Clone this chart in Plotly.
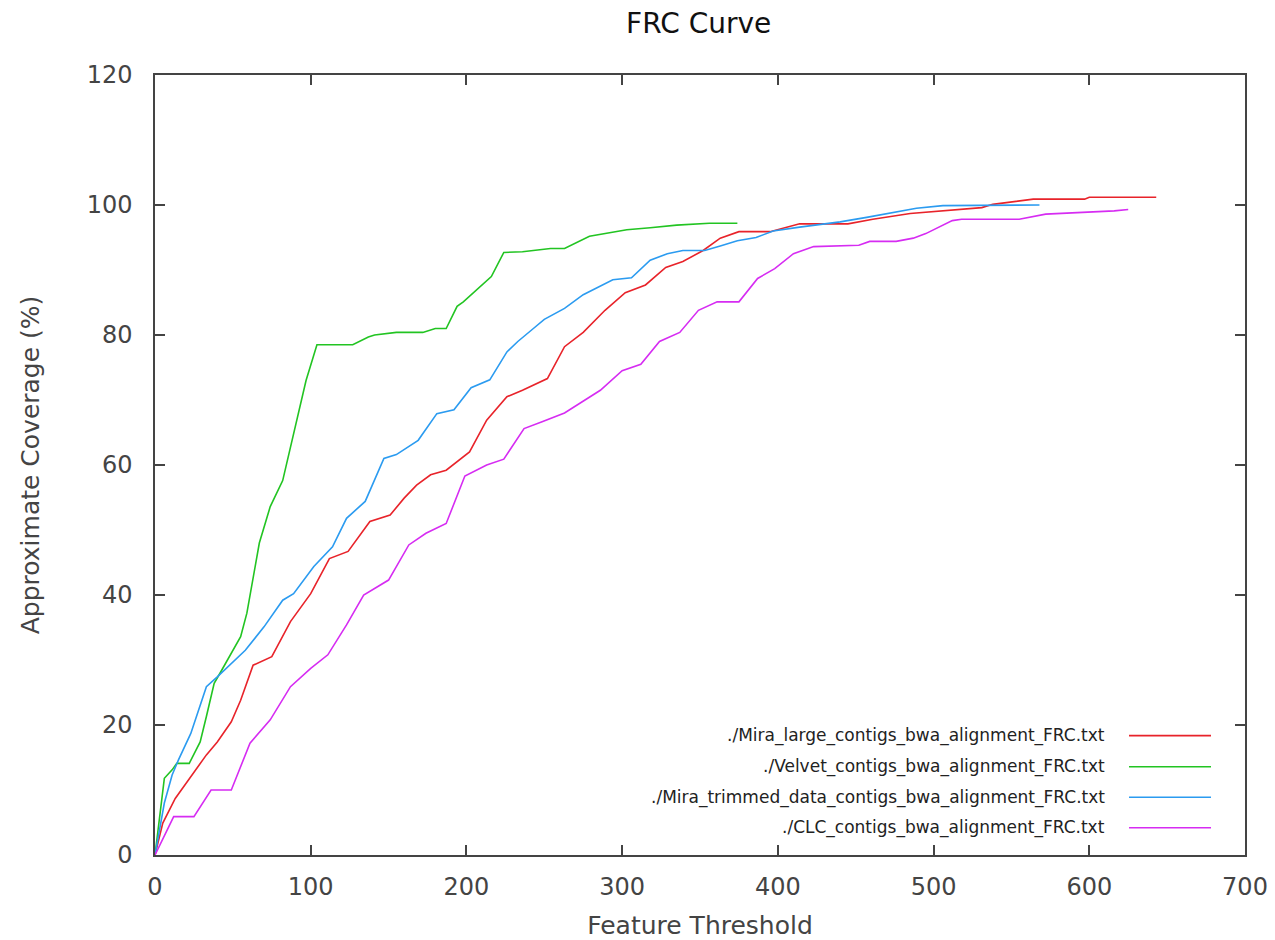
import plotly.graph_objects as go

# ---- data ----
mira_large_x = [0, 5, 13, 22, 33, 40, 49, 55, 63, 75, 87, 100, 112, 124, 138, 151, 160, 168, 177, 187, 196, 202,
                213, 226, 236, 252, 263, 275, 289, 302, 315, 328, 339, 352, 363, 375, 395, 414, 445, 461, 485, 517,
                531, 538, 564, 597, 600, 643]
mira_large_y = [0, 4.9, 8.7, 11.8, 15.4, 17.4, 20.5, 23.8, 29.2, 30.5, 35.9, 40.2, 45.6, 46.7, 51.3, 52.3, 54.9,
                56.9, 58.5, 59.2, 60.8, 62.0, 66.9, 70.5, 71.5, 73.3, 78.2, 80.4, 83.8, 86.5, 87.7, 90.4, 91.3, 93.0,
                94.9, 95.9, 95.9, 97.1, 97.1, 97.8, 98.7, 99.3, 99.6, 100.1, 100.9, 100.9, 101.2, 101.2]

velvet_x = [0, 6, 11, 14, 22, 29, 33, 38, 43, 55, 59, 67, 74, 82, 97, 104, 127, 137, 141, 155, 172, 180, 187,
            194, 198, 212, 216, 224, 236, 254, 263, 279, 288, 303, 318, 335, 356, 374]
velvet_y = [0, 11.8, 13.1, 14.1, 14.1, 17.4, 21.3, 26.4, 28.5, 33.6, 37.2, 48.0, 53.6, 57.6, 73.0, 78.5, 78.5,
            79.7, 80.0, 80.4, 80.4, 81.0, 81.0, 84.4, 85.1, 88.2, 89.0, 92.7, 92.8, 93.3, 93.3, 95.2, 95.6, 96.2,
            96.5, 96.9, 97.2, 97.2]

mira_trim_x = [0, 6, 11, 15, 23, 33, 40, 48, 58, 70, 82, 89, 102, 114, 123, 135, 147, 155, 169, 181, 192, 203,
               215, 226, 233, 243, 250, 263, 275, 294, 306, 318, 329, 339, 353, 363, 374, 386, 397, 414, 440, 457,
               474, 489, 506, 538, 568]
mira_trim_y = [0, 8.0, 12.3, 14.6, 18.7, 25.9, 27.4, 29.2, 31.5, 35.1, 39.2, 40.2, 44.4, 47.4, 51.8, 54.4, 61.0,
               61.6, 63.8, 67.9, 68.5, 71.9, 73.1, 77.4, 79.0, 81.0, 82.4, 84.1, 86.2, 88.5, 88.8, 91.5, 92.5, 93.0,
               93.0, 93.7, 94.5, 95.0, 96.0, 96.6, 97.4, 98.1, 98.8, 99.5, 99.9, 100.0, 100.0]

clc_x = [0, 12, 25, 36, 49, 61, 74, 87, 100, 111, 123, 134, 150, 163, 174, 187, 199, 213, 224, 237, 249, 263,
         286, 300, 312, 324, 337, 349, 361, 375, 387, 398, 410, 423, 452, 459, 476, 487, 495, 512, 518, 555, 572,
         592, 616, 625]
clc_y = [0, 5.9, 5.9, 10.0, 10.0, 17.2, 20.8, 25.9, 28.7, 30.8, 35.4, 40.0, 42.3, 47.7, 49.5, 51.0, 58.3, 60.0,
         60.9, 65.6, 66.7, 68.0, 71.5, 74.5, 75.5, 79.0, 80.4, 83.8, 85.1, 85.1, 88.7, 90.2, 92.5, 93.6, 93.8,
         94.4, 94.4, 94.9, 95.6, 97.6, 97.8, 97.8, 98.6, 98.8, 99.1, 99.3]

series_names = ["./Mira_large_contigs_bwa_alignment_FRC.txt",
                "./Velvet_contigs_bwa_alignment_FRC.txt",
                "./Mira_trimmed_data_contigs_bwa_alignment_FRC.txt",
                "./CLC_contigs_bwa_alignment_FRC.txt"]
series_colors = ["#e8232a", "#22c422", "#2b9bf0", "#d62cf2"]

x_ticks = [0, 100, 200, 300, 400, 500, 600, 700]
y_ticks = [0, 20, 40, 60, 80, 100, 120]

FONT = "DejaVu Sans"
AXC = "#444444"

fig = go.Figure()
series = [(mira_large_x, mira_large_y), (velvet_x, velvet_y), (mira_trim_x, mira_trim_y), (clc_x, clc_y)]
for (xs, ys), name, col in zip(series, series_names, series_colors):
    fig.add_trace(go.Scatter(x=xs, y=ys, mode="lines", name=name,
                             line=dict(color=col, width=1.6), showlegend=False))

# legend drawn gnuplot-style (text right-aligned, sample line to the right)
legend_rows_y = [0.153, 0.1132, 0.074, 0.035]
for name, col, ry in zip(series_names, series_colors, legend_rows_y):
    fig.add_annotation(x=0.873, y=ry, xref="paper", yref="paper", text=name, showarrow=False,
                       xanchor="right", yanchor="middle", font=dict(family=FONT, size=17, color="#222222"))
    fig.add_shape(type="line", xref="paper", yref="paper", x0=0.8936, x1=0.9688, y0=ry, y1=ry,
                  line=dict(color=col, width=1.6))

axis_common = dict(showline=True, linecolor=AXC, linewidth=1.5, mirror="allticks", ticks="inside",
                   ticklen=10, tickwidth=1.5, tickcolor=AXC, showgrid=False, zeroline=False,
                   automargin=False, tickfont=dict(family=FONT, size=24, color="#444444"))

fig.update_layout(
    width=1275, height=940,
    margin=dict(l=155, r=30, t=75, b=85),
    paper_bgcolor="white", plot_bgcolor="white",
    title=dict(text="FRC Curve", x=0.548, xanchor="center", y=0.9755, yanchor="middle",
               font=dict(family=FONT, size=28, color="#111111")),
    xaxis=dict(range=[0, 700], tickvals=x_ticks, ticklabelstandoff=9,
               title=dict(text="Feature Threshold", standoff=24, font=dict(family=FONT, size=25, color="#444444")),
               **axis_common),
    yaxis=dict(range=[0, 120], tickvals=y_ticks, ticklabelstandoff=16,
               title=dict(text="Approximate Coverage (%)", standoff=40,
                          font=dict(family=FONT, size=25, color="#444444")),
               **axis_common),
)

# remove the default 8px page margin so the 1275x940 figure fills the window exactly
fig.write_html("out.html", config={"displayModeBar": False},
               post_script="document.body.style.margin='0px';")
